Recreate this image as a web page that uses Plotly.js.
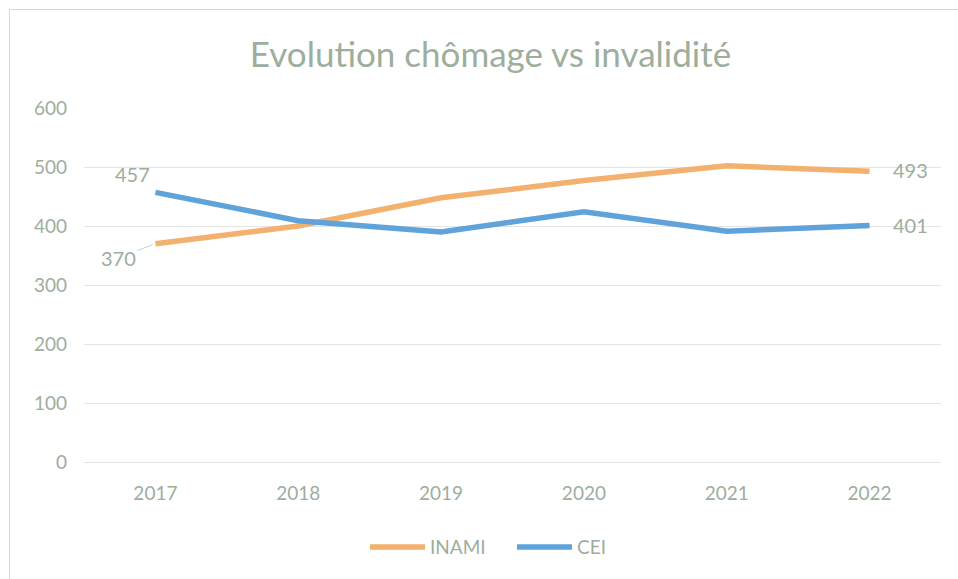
<!DOCTYPE html>
<html>
<head>
<meta charset="utf-8">
<script src="https://cdn.plot.ly/plotly-3.0.1.min.js"></script>
<style>
  html, body { margin: 0; padding: 0; background: #ffffff; }
  #wrap { position: relative; width: 958px; height: 579px; overflow: hidden; }
  #frame { position: absolute; left: 9px; top: 9px; width: 1000px; height: 1000px;
           border-left: 1px solid #D9D9D9; border-top: 1px solid #D9D9D9; pointer-events: none; }
  #chart { position: absolute; left: 0; top: 0; width: 958px; height: 579px; }
</style>
</head>
<body>
<div id="wrap">
  <div id="chart"></div>
  <div id="frame"></div>
</div>
<script>
const years = ['2017', '2018', '2019', '2020', '2021', '2022'];
const inami = [370, 400, 448, 477, 502, 493];
const cei = [457, 409, 390, 424, 391, 401];
const yTicks = [0, 100, 200, 300, 400, 500, 600];

const txt = '#9CAE9C';
const font = 'Lato, sans-serif';

const traces = [
  { x: years, y: inami, name: 'INAMI', type: 'scatter', mode: 'lines',
    line: { color: '#F3B16F', width: 5.5 } },
  { x: years, y: cei, name: 'CEI', type: 'scatter', mode: 'lines',
    line: { color: '#5FA3DA', width: 5.5 } }
];

const last = years.length - 1;
const labFont = { size: 20, color: txt, family: font };
const annotations = [
  { x: 0, y: cei[0], xref: 'x', yref: 'y', text: String(cei[0]), showarrow: false,
    xshift: -23, yshift: 18, font: labFont },
  { x: 0, y: inami[0], xref: 'x', yref: 'y', text: String(inami[0]), showarrow: true,
    arrowhead: 0, arrowwidth: 1, arrowcolor: '#C8D0C8', ax: -37, ay: 14, standoff: 3,
    font: labFont },
  { x: last, y: inami[last], xref: 'x', yref: 'y', text: String(inami[last]), showarrow: false,
    xshift: 41, yshift: 1, font: labFont },
  { x: last, y: cei[last], xref: 'x', yref: 'y', text: String(cei[last]), showarrow: false,
    xshift: 41, yshift: 0, font: labFont }
];

const layout = {
  width: 958, height: 579,
  margin: { l: 84, r: 17, t: 108, b: 117 },
  paper_bgcolor: '#ffffff', plot_bgcolor: '#ffffff',
  font: { family: font, color: txt, size: 19 },
  title: { text: 'Evolution chômage vs invalidité', font: { size: 35, color: txt, family: font },
           x: 0.512, xref: 'container', xanchor: 'center', y: 0.905, yref: 'container', yanchor: 'middle' },
  xaxis: { type: 'category', range: [-0.5, 5.5], showgrid: false, zeroline: false,
           showline: false, ticks: '', ticklabelstandoff: 18,
           tickfont: { size: 19, color: txt, family: font }, fixedrange: true },
  yaxis: { range: [0, 600], tickvals: yTicks, ticktext: yTicks.map(String), showgrid: true,
           gridcolor: '#E4E4E4', gridwidth: 1, zeroline: true, zerolinecolor: '#E4E4E4', zerolinewidth: 1,
           showline: false, ticks: '', ticklabelstandoff: 16,
           tickfont: { size: 19, color: txt, family: font }, fixedrange: true },
  showlegend: true,
  legend: { orientation: 'h', xref: 'container', yref: 'container', x: 0.381, y: 0.055,
            xanchor: 'left', yanchor: 'middle', font: { size: 19, color: txt, family: font },
            itemwidth: 55, entrywidth: 77, traceorder: 'normal' },
  annotations: annotations
};

Plotly.newPlot('chart', traces, layout, { displayModeBar: false });
</script>
</body>
</html>
